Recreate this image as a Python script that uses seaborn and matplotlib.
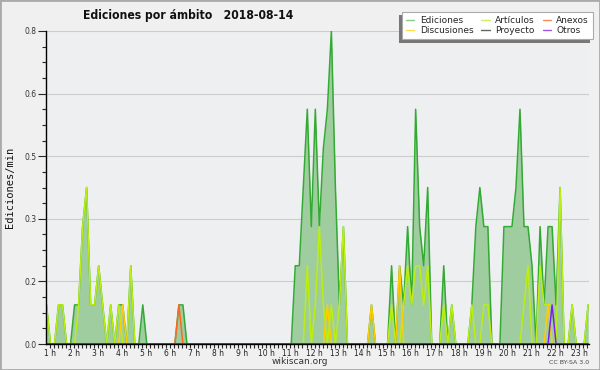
import numpy as np
import pandas as pd
import matplotlib
matplotlib.use('Agg')
import matplotlib.pyplot as plt
from matplotlib.lines import Line2D
from matplotlib.patches import Rectangle
from matplotlib.ticker import MultipleLocator, FormatStrFormatter
import seaborn as sns

# one sample every 10 minutes, the first one at 0:52
minutos = np.arange(136) * 10 + 52
horas = minutos / 60

# edits per minute, 12 samples (2 hours) per row
ediciones = [0.1, 0, 0, 0.1, 0.1, 0, 0, 0.1, 0.1, 0.3, 0.4, 0.1,
             0.1, 0.2, 0.1, 0, 0.1, 0, 0.1, 0.1, 0, 0.2, 0, 0,
             0.1, 0, 0, 0, 0, 0, 0, 0, 0, 0.1, 0.1, 0,
             0, 0, 0, 0, 0, 0, 0, 0, 0, 0, 0, 0,
             0, 0, 0, 0, 0, 0, 0, 0, 0, 0, 0, 0,
             0, 0, 0.2, 0.2, 0.4, 0.6, 0.3, 0.6, 0.3, 0.5, 0.6, 0.8,
             0.4, 0.1, 0.3, 0, 0, 0, 0, 0, 0, 0.1, 0, 0,
             0, 0, 0.2, 0, 0.2, 0.1, 0.3, 0.1, 0.6, 0.3, 0.2, 0.4,
             0, 0, 0, 0.2, 0, 0.1, 0, 0, 0, 0, 0.1, 0.3,
             0.4, 0.3, 0.3, 0, 0, 0, 0.3, 0.3, 0.3, 0.4, 0.6, 0.3,
             0.3, 0.2, 0, 0.3, 0.1, 0.3, 0.3, 0.1, 0.4, 0, 0, 0.1,
             0, 0, 0, 0.1]

articulos = [0.1, 0, 0, 0.1, 0.1, 0, 0, 0, 0.1, 0.3, 0.4, 0.1,
             0.1, 0.2, 0.1, 0, 0.1, 0, 0.1, 0, 0, 0.2, 0, 0,
             0, 0, 0, 0, 0, 0, 0, 0, 0, 0, 0, 0,
             0, 0, 0, 0, 0, 0, 0, 0, 0, 0, 0, 0,
             0, 0, 0, 0, 0, 0, 0, 0, 0, 0, 0, 0,
             0, 0, 0, 0, 0, 0.2, 0, 0.1, 0.3, 0.1, 0, 0.1,
             0, 0.1, 0.3, 0, 0, 0, 0, 0, 0, 0, 0, 0,
             0, 0, 0.1, 0, 0, 0.1, 0.2, 0.1, 0.2, 0.2, 0.1, 0.2,
             0, 0, 0, 0.1, 0, 0.1, 0, 0, 0, 0, 0.1, 0,
             0, 0.1, 0.1, 0, 0, 0, 0, 0, 0, 0, 0, 0.1,
             0.2, 0, 0, 0.2, 0.1, 0.1, 0.1, 0, 0.4, 0, 0, 0.1,
             0, 0, 0, 0.1]

discusiones = [0, 0, 0, 0, 0, 0, 0, 0, 0, 0, 0, 0,
               0, 0, 0, 0, 0, 0, 0, 0.1, 0, 0, 0, 0,
               0, 0, 0, 0, 0, 0, 0, 0, 0, 0, 0, 0,
               0, 0, 0, 0, 0, 0, 0, 0, 0, 0, 0, 0,
               0, 0, 0, 0, 0, 0, 0, 0, 0, 0, 0, 0,
               0, 0, 0, 0, 0, 0, 0, 0, 0, 0, 0.1, 0,
               0, 0, 0, 0, 0, 0, 0, 0, 0, 0.1, 0, 0,
               0, 0, 0, 0, 0.2, 0, 0, 0, 0, 0, 0, 0,
               0, 0, 0, 0, 0, 0, 0, 0, 0, 0, 0, 0,
               0, 0, 0, 0, 0, 0, 0, 0, 0, 0, 0, 0,
               0, 0, 0, 0, 0, 0.1, 0, 0, 0, 0, 0, 0,
               0, 0, 0, 0]

anexos = [0, 0, 0, 0, 0, 0, 0, 0, 0, 0, 0, 0,
          0, 0, 0, 0, 0, 0, 0, 0, 0, 0, 0, 0,
          0, 0, 0, 0, 0, 0, 0, 0, 0, 0.1, 0, 0,
          0, 0, 0, 0, 0, 0, 0, 0, 0, 0, 0, 0,
          0, 0, 0, 0, 0, 0, 0, 0, 0, 0, 0, 0,
          0, 0, 0, 0, 0, 0, 0, 0, 0, 0, 0, 0,
          0, 0, 0, 0, 0, 0, 0, 0, 0, 0, 0, 0,
          0, 0, 0, 0, 0, 0, 0, 0, 0, 0, 0, 0,
          0, 0, 0, 0, 0, 0, 0, 0, 0, 0, 0, 0,
          0, 0, 0, 0, 0, 0, 0, 0, 0, 0, 0, 0,
          0, 0, 0, 0, 0, 0, 0, 0, 0, 0, 0, 0,
          0, 0, 0, 0]

proyecto = [0] * 136

otros = [0, 0, 0, 0, 0, 0, 0, 0, 0, 0, 0, 0,
         0, 0, 0, 0, 0, 0, 0, 0, 0, 0, 0, 0,
         0, 0, 0, 0, 0, 0, 0, 0, 0, 0, 0, 0,
         0, 0, 0, 0, 0, 0, 0, 0, 0, 0, 0, 0,
         0, 0, 0, 0, 0, 0, 0, 0, 0, 0, 0, 0,
         0, 0, 0, 0, 0, 0, 0, 0, 0, 0, 0, 0,
         0, 0, 0, 0, 0, 0, 0, 0, 0, 0, 0, 0,
         0, 0, 0, 0, 0, 0, 0, 0, 0, 0, 0, 0,
         0, 0, 0, 0, 0, 0, 0, 0, 0, 0, 0, 0,
         0, 0, 0, 0, 0, 0, 0, 0, 0, 0, 0, 0,
         0, 0, 0, 0, 0, 0, 0.1, 0, 0, 0, 0, 0,
         0, 0, 0, 0]

series = ['Ediciones', 'Artículos', 'Anexos', 'Discusiones', 'Proyecto', 'Otros']
colores = {'Ediciones': '#33aa33', 'Artículos': '#bbee11', 'Anexos': '#ff6622',
           'Discusiones': '#ffcc00', 'Proyecto': '#555555', 'Otros': '#7722ee'}
colores_leyenda = {'Ediciones': '#88cc88', 'Artículos': '#ccee66', 'Anexos': '#ff8855',
                   'Discusiones': '#ffdd55', 'Proyecto': '#666666', 'Otros': '#9955ee'}

df = pd.DataFrame({'hora': horas, 'Ediciones': ediciones, 'Artículos': articulos,
                   'Anexos': anexos, 'Discusiones': discusiones,
                   'Proyecto': proyecto, 'Otros': otros})
largo = df.melt(id_vars='hora', var_name='serie', value_name='valor')

sns.set_style('ticks')
plt.rcParams['font.family'] = ['DejaVu Sans']

fig = plt.figure(figsize=(6, 3.7), dpi=100, facecolor='#f0f0f0')
ax = fig.add_axes([46/600, 1-344/370, (589-46)/600, (344-31)/370])
ax.set_facecolor('#eeeff1')

ax.fill_between(df['hora'], df['Ediciones'], 0, color='#9ccc9c', alpha=0.95, lw=0, zorder=1.5)
sns.lineplot(data=largo, x='hora', y='valor', hue='serie', hue_order=series,
             palette=colores, estimator=None, lw=1.1, legend=False, ax=ax, zorder=2)

ax.set_xlim(horas[0] - 0.02, 23.4)
ax.set_ylim(0, 0.8)
ax.set_xlabel('')
ax.set_ylabel('')

ax.set_xticks(range(1, 24))
ax.set_xticklabels([f'{h} h' for h in range(1, 24)])
ax.xaxis.set_minor_locator(MultipleLocator(1/6))
ax.set_yticks(np.arange(0, 0.81, 0.16))
ax.yaxis.set_major_formatter(FormatStrFormatter('%.1f'))
ax.yaxis.set_minor_locator(MultipleLocator(0.04))

ax.tick_params(axis='x', which='both', length=3, width=0.8, pad=0.5, labelsize=5.5, labelcolor='#222222')
ax.tick_params(axis='y', which='major', length=6, width=0.8, pad=0.5, labelsize=5.5, labelcolor='#333333')
ax.tick_params(axis='y', which='minor', length=3, width=0.8)

ax.yaxis.grid(True, color='#cccccc', lw=0.8)
ax.set_axisbelow(True)
sns.despine(ax=ax)
for s in ['left', 'bottom']:
    ax.spines[s].set_color('black')
    ax.spines[s].set_linewidth(1)

fig.text(188/600, 1-15/370, 'Ediciones por ámbito   2018-08-14', ha='center', va='center',
         fontsize=8.7, fontweight='bold', fontstretch='condensed', color='#111111')
fig.text(10/600, 1-187.5/370, 'Ediciones/min', rotation=90, ha='center', va='center',
         fontsize=7.5, family='DejaVu Sans Mono', color='#111111')
fig.text(300/600, 1-361/370, 'wikiscan.org', ha='center', va='center', fontsize=6.5, color='#333333')
fig.text(589/600, 1-362/370, 'CC BY-SA 3.0', ha='right', va='center', fontsize=4.5, color='#444444')

orden = ['Ediciones', 'Discusiones', 'Artículos', 'Proyecto', 'Anexos', 'Otros']
handles = [Line2D([], [], color=colores_leyenda[s], lw=1) for s in orden]
leg = fig.legend(handles, orden, loc='upper right', bbox_to_anchor=(593/600, 1-12/370),
                 ncol=3, fontsize=6.5, frameon=True, fancybox=False,
                 shadow={'ox': -2.5, 'oy': -2.5, 'facecolor': '#777777', 'edgecolor': 'none', 'alpha': 1},
                 handlelength=0.9, handletextpad=0.6, columnspacing=0.9,
                 borderpad=0.45, labelspacing=0.15, borderaxespad=0)
leg.get_frame().set_edgecolor('#aaaaaa')
leg.get_frame().set_facecolor('white')
leg.get_frame().set_linewidth(0.8)

fig.patches.append(Rectangle((0, 0), 1, 1, transform=fig.transFigure, fill=False,
                             edgecolor='#aaaaaa', lw=2))

fig.savefig('out.png', dpi=100, facecolor=fig.get_facecolor())
